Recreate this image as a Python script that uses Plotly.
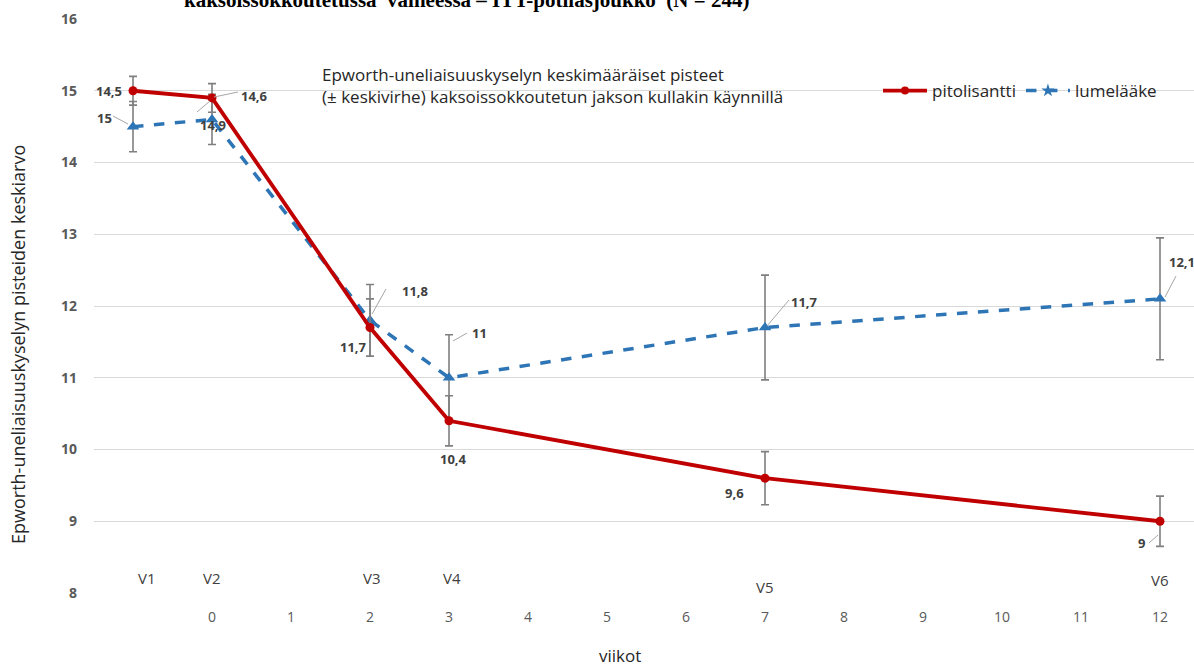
import plotly.graph_objects as go

# ---------------- data ----------------
visits = ["V1", "V2", "V3", "V4", "V5", "V6"]
visit_week = [-1, 0, 2, 3, 7, 12]
week_ticks = list(range(0, 13))

pito_mean = [15.0, 14.9, 11.7, 10.4, 9.6, 9.0]
pito_se = [0.2, 0.2, 0.4, 0.35, 0.37, 0.35]
lume_mean = [14.5, 14.6, 11.8, 11.0, 11.7, 12.1]
lume_se = [0.35, 0.35, 0.5, 0.6, 0.73, 0.85]

# value labels as printed in the source
pito_labels = ["14,5", "14,6", "11,7", "10,4", "9,6", "9"]
lume_labels = ["15", "14,9", "11,8", "11", "11,7", "12,1"]

RED = "#C00000"
BLUE = "#2E75B6"
GREY = "#7F7F7F"
TXT = "#595959"
FONT = "Open Sans"

# pixel geometry of plot area
L, R, T, B = 94, 1194, 19, 593
X0_PX, X_STEP = 212, 79.0
XMIN = (L - X0_PX) / X_STEP
XMAX = (R - X0_PX) / X_STEP
YMIN, YMAX = 8, 16


def px2x(px):
    return (px - X0_PX) / X_STEP


def py2y(py):
    return YMAX - (py - T) / ((B - T) / (YMAX - YMIN))


fig = go.Figure()

fig.add_trace(go.Scatter(
    x=visit_week, y=lume_mean, mode="lines+markers", name="lumelääke",
    line=dict(color=BLUE, width=3.5, dash="dash"),
    marker=dict(symbol="triangle-up", size=11, color=BLUE),
    error_y=dict(type="data", array=lume_se, color=GREY, thickness=1.6, width=4),
    showlegend=False,
))
fig.add_trace(go.Scatter(
    x=visit_week, y=pito_mean, mode="lines+markers", name="pitolisantti",
    line=dict(color=RED, width=3.8),
    marker=dict(symbol="circle", size=9, color=RED),
    error_y=dict(type="data", array=pito_se, color=GREY, thickness=1.6, width=4),
    showlegend=False,
))
# legend entries
fig.add_trace(go.Scatter(
    x=[None], y=[None], mode="lines+markers", name="pitolisantti",
    line=dict(color=RED, width=3.8), marker=dict(symbol="circle", size=8, color=RED),
))
fig.add_trace(go.Scatter(
    x=[None], y=[None], mode="lines+markers", name="lumelääke",
    line=dict(color=BLUE, width=3.5, dash="dash"),
    marker=dict(symbol="star", size=10, color=BLUE),
))

# ------------- value labels with leader lines -------------
pito_lab_pos = [
    ((109, 91), None),
    ((254, 96), ((214, 97), (238, 92))),
    ((353, 347), None),
    ((453, 459), None),
    ((734, 493), None),
    ((1141, 543), ((1149, 543), (1158, 535))),
]
lume_lab_pos = [
    ((104, 118), ((113, 116), (128, 124))),
    ((213, 125), ((197, 112), (210, 101))),
    ((415, 291), ((372, 314), (386, 289))),
    ((479, 333), ((453, 341), (467, 333))),
    ((804, 302), ((767, 326), (789, 300))),
    ((1182, 262), ((1165, 297), (1176, 276))),
]
for labels, positions in ((pito_labels, pito_lab_pos), (lume_labels, lume_lab_pos)):
    for lab, ((tx, ty), leader) in zip(labels, positions):
        fig.add_annotation(x=px2x(tx), y=py2y(ty), text=lab, showarrow=False,
                           font=dict(family=FONT, size=13, color="#404040", weight="bold"),
                           xanchor="center", yanchor="middle")
        if leader:
            (ax, ay), (bx, by) = leader
            fig.add_shape(type="line", x0=px2x(ax), y0=py2y(ay), x1=px2x(bx), y1=py2y(by),
                          line=dict(color="#A6A6A6", width=1))

# visit labels
visit_lab_py = [578, 578, 578, 578, 587, 580]
visit_lab_px = [147, 212, 372, 452, 765, 1160]
for v, vx, vy in zip(visits, visit_lab_px, visit_lab_py):
    fig.add_annotation(x=px2x(vx), y=py2y(vy), text=v, showarrow=False,
                       font=dict(family=FONT, size=15, color="#404040"),
                       xanchor="center", yanchor="middle")

# in-plot description text
fig.add_annotation(x=px2x(320), y=py2y(85), xanchor="left", yanchor="middle", align="left",
                   text="Epworth-uneliaisuuskyselyn keskimääräiset pisteet<br>"
                        "(± keskivirhe) kaksoissokkoutetun jakson kullakin käynnillä",
                   showarrow=False, font=dict(family=FONT, size=17, color="#262626"))

# clipped title at top
fig.add_annotation(xref="paper", yref="paper", x=(467 - L) / (R - L), y=(B - 14) / (B - T),
                   xanchor="center", yanchor="bottom",
                   text="kaksoissokkoutetussa  vaiheessa – ITT-potilasjoukko  (N = 244)",
                   showarrow=False,
                   font=dict(family="Liberation Serif", size=21, color="black", weight="bold"))

# axis titles
fig.add_annotation(xref="paper", yref="paper", x=-(L - 18) / (R - L), y=(B - 345) / (B - T),
                   text="Epworth-uneliaisuuskyselyn pisteiden keskiarvo", textangle=-90,
                   showarrow=False, xanchor="center", yanchor="middle",
                   font=dict(family=FONT, size=18, color="#262626"))
fig.add_annotation(xref="paper", yref="paper", x=(620 - L) / (R - L), y=-(655 - B) / (B - T),
                   text="viikot", showarrow=False, xanchor="center", yanchor="middle",
                   font=dict(family=FONT, size=17, color="#262626"))

fig.update_layout(
    width=1194, height=670,
    margin=dict(l=L, r=1194 - R, t=T, b=670 - B),
    paper_bgcolor="white", plot_bgcolor="white",
    showlegend=True,
    legend=dict(orientation="h", x=(878 - L) / (R - L), y=(B - 91) / (B - T),
                xanchor="left", yanchor="middle", bgcolor="rgba(0,0,0,0)",
                font=dict(family=FONT, size=17, color="#262626"),
                itemwidth=44, tracegroupgap=0),
    xaxis=dict(range=[XMIN, XMAX], tickmode="array", tickvals=week_ticks,
               ticktext=[str(w) for w in week_ticks], showgrid=False, zeroline=False,
               showline=False, ticks="", ticklabelstandoff=14,
               tickfont=dict(family=FONT, size=14, color=TXT)),
    yaxis=dict(range=[YMIN, YMAX], dtick=1, showgrid=True, gridcolor="#D9D9D9", gridwidth=1,
               zeroline=False, showline=False, ticks="", ticklabelstandoff=16,
               tickfont=dict(family=FONT, size=14, color=TXT, weight="bold")),
)

fig.write_html("out.html", config={"displayModeBar": False},
               post_script="document.body.style.margin='0';document.body.style.overflow='hidden';")
